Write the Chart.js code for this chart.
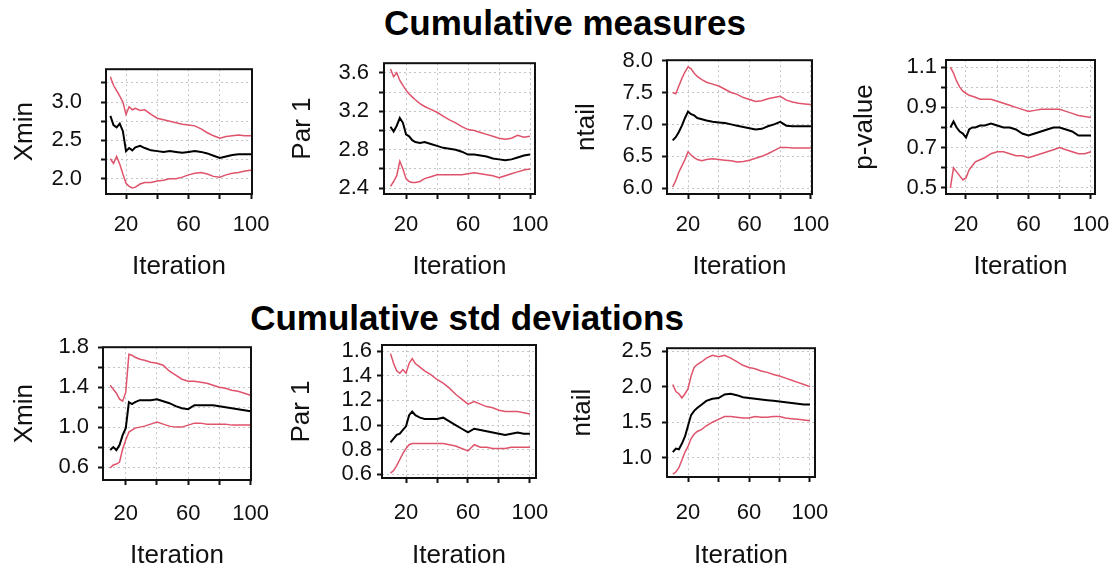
<!DOCTYPE html>
<html>
<head>
<meta charset="utf-8">
<script src="https://cdn.jsdelivr.net/npm/chart.js@4.4.1/dist/chart.umd.min.js"></script>
<style>
  body { margin: 0; background: #fff; width: 1116px; height: 574px; position: relative; overflow: hidden; }
  .heading { position: absolute; font: bold 35px "Liberation Sans", Arial, sans-serif; color: #000; white-space: nowrap; transform: translate(-50%, -50%); }
  .panel { position: absolute; }
</style>
</head>
<body>
<div class="heading" style="left:565px; top:23px;">Cumulative measures</div>
<div class="heading" style="left:467px; top:318px;">Cumulative std deviations</div>

<script>
const iterations = [10, 12, 14, 16, 18, 20, 22, 24, 26, 29, 32, 36, 40, 44, 48, 52, 56, 60, 64, 68, 72, 76, 80, 84, 88, 92, 96, 100];
const xTickLabels = [20, 60, 100];

// cumulative measures
const xminUpper = [3.33, 3.22, 3.15, 3.08, 3.0, 2.84, 2.94, 2.9, 2.92, 2.89, 2.9, 2.84, 2.79, 2.77, 2.75, 2.73, 2.71, 2.7, 2.69, 2.65, 2.6, 2.56, 2.53, 2.55, 2.56, 2.57, 2.56, 2.56];
const xminMean = [2.82, 2.7, 2.67, 2.72, 2.62, 2.36, 2.4, 2.37, 2.41, 2.43, 2.4, 2.37, 2.36, 2.35, 2.36, 2.35, 2.34, 2.35, 2.36, 2.35, 2.33, 2.3, 2.27, 2.29, 2.31, 2.32, 2.32, 2.32];
const xminLower = [2.26, 2.2, 2.29, 2.19, 2.06, 1.94, 1.9, 1.88, 1.89, 1.93, 1.95, 1.95, 1.97, 1.98, 2.0, 2.0, 2.02, 2.05, 2.07, 2.08, 2.06, 2.03, 2.02, 2.05, 2.07, 2.08, 2.1, 2.11];

const par1Upper = [3.64, 3.56, 3.6, 3.52, 3.47, 3.42, 3.38, 3.35, 3.32, 3.28, 3.25, 3.22, 3.19, 3.15, 3.11, 3.08, 3.04, 3.01, 3.0, 2.98, 2.96, 2.94, 2.92, 2.91, 2.92, 2.95, 2.93, 2.94];
const par1Mean = [3.04, 2.99, 3.05, 3.13, 3.08, 2.96, 2.94, 2.9, 2.88, 2.87, 2.88, 2.86, 2.84, 2.82, 2.81, 2.8, 2.78, 2.75, 2.75, 2.74, 2.73, 2.71, 2.7, 2.69, 2.7, 2.72, 2.74, 2.75];
const par1Lower = [2.42, 2.47, 2.53, 2.68, 2.6, 2.5, 2.47, 2.46, 2.46, 2.47, 2.5, 2.52, 2.54, 2.54, 2.54, 2.54, 2.54, 2.55, 2.56, 2.55, 2.54, 2.53, 2.51, 2.53, 2.55, 2.57, 2.59, 2.6];

const ntailUpper = [7.5, 7.48, 7.6, 7.72, 7.82, 7.9, 7.87, 7.8, 7.75, 7.7, 7.66, 7.63, 7.6, 7.55, 7.5, 7.47, 7.42, 7.39, 7.36, 7.37, 7.4, 7.42, 7.44, 7.38, 7.35, 7.33, 7.32, 7.31];
const ntailMean = [6.75, 6.8, 6.88, 6.98, 7.1, 7.2, 7.16, 7.14, 7.1, 7.08, 7.06, 7.04, 7.03, 7.02, 7.0, 6.98, 6.96, 6.94, 6.92, 6.93, 6.97, 7.0, 7.04, 6.98, 6.97, 6.97, 6.97, 6.97];
const ntailLower = [6.02, 6.12, 6.25, 6.35, 6.45, 6.57, 6.52, 6.48, 6.45, 6.43, 6.45, 6.46, 6.45, 6.44, 6.43, 6.41, 6.42, 6.44, 6.47, 6.5, 6.54, 6.59, 6.64, 6.64, 6.63, 6.63, 6.63, 6.63];

const pvalueUpper = [1.1, 1.07, 1.03, 1.0, 0.98, 0.97, 0.96, 0.955, 0.95, 0.94, 0.94, 0.94, 0.93, 0.92, 0.91, 0.9, 0.89, 0.88, 0.885, 0.89, 0.89, 0.89, 0.89, 0.88, 0.87, 0.86, 0.855, 0.85];
const pvalueMean = [0.8, 0.83, 0.8, 0.78, 0.77, 0.75, 0.79, 0.8, 0.8, 0.81, 0.81, 0.82, 0.81, 0.8, 0.8, 0.79, 0.77, 0.76, 0.77, 0.78, 0.79, 0.8, 0.8, 0.79, 0.78, 0.76, 0.76, 0.76];
const pvalueLower = [0.5, 0.6, 0.58, 0.56, 0.54, 0.55, 0.59, 0.61, 0.63, 0.64, 0.65, 0.67, 0.68, 0.68, 0.67, 0.66, 0.66, 0.65, 0.66, 0.67, 0.68, 0.69, 0.7, 0.69, 0.68, 0.67, 0.67, 0.68];

// cumulative std deviations
const xminSdUpper = [1.42, 1.38, 1.34, 1.28, 1.26, 1.35, 1.73, 1.72, 1.7, 1.68, 1.67, 1.65, 1.64, 1.62, 1.56, 1.52, 1.48, 1.46, 1.46, 1.45, 1.44, 1.42, 1.4, 1.39, 1.37, 1.36, 1.34, 1.32];
const xminSdMean = [0.77, 0.8, 0.77, 0.82, 0.92, 0.99, 1.25, 1.23, 1.25, 1.27, 1.27, 1.27, 1.28, 1.26, 1.24, 1.21, 1.19, 1.18, 1.22, 1.22, 1.22, 1.22, 1.21, 1.2, 1.19, 1.18, 1.17, 1.16];
const xminSdLower = [0.59, 0.62, 0.63, 0.65, 0.78, 0.87, 0.95, 0.97, 0.99, 1.0, 1.01, 1.03, 1.05, 1.03, 1.01, 1.0, 1.0, 1.02, 1.04, 1.04, 1.03, 1.03, 1.03, 1.03, 1.02, 1.02, 1.02, 1.02];

const par1SdUpper = [1.58, 1.5, 1.44, 1.42, 1.45, 1.42, 1.5, 1.54, 1.5, 1.47, 1.44, 1.41, 1.37, 1.34, 1.3, 1.25, 1.21, 1.17, 1.19, 1.17, 1.15, 1.14, 1.12, 1.11, 1.11, 1.11, 1.1, 1.09];
const par1SdMean = [0.86, 0.89, 0.92, 0.93, 0.96, 0.99, 1.08, 1.11, 1.08, 1.06, 1.05, 1.05, 1.05, 1.06, 1.03, 1.0, 0.97, 0.94, 0.97, 0.96, 0.95, 0.94, 0.93, 0.92, 0.93, 0.94, 0.93, 0.93];
const par1SdLower = [0.61, 0.63, 0.67, 0.72, 0.77, 0.81, 0.84, 0.85, 0.85, 0.85, 0.85, 0.85, 0.85, 0.85, 0.84, 0.83, 0.81, 0.79, 0.84, 0.82, 0.82, 0.81, 0.81, 0.81, 0.82, 0.82, 0.82, 0.82];

const ntailSdUpper = [2.03, 1.93, 1.9, 1.84, 1.9, 1.97, 2.15, 2.27, 2.31, 2.35, 2.4, 2.44, 2.42, 2.44, 2.4, 2.35, 2.3, 2.27, 2.25, 2.22, 2.2, 2.17, 2.15, 2.12, 2.09, 2.06, 2.03, 2.0];
const ntailSdMean = [1.08, 1.13, 1.12, 1.2, 1.3, 1.45, 1.6, 1.66, 1.7, 1.75, 1.8, 1.83, 1.84, 1.89, 1.9, 1.88, 1.85, 1.84, 1.83, 1.82, 1.81, 1.8, 1.79, 1.78, 1.77, 1.76, 1.75, 1.75];
const ntailSdLower = [0.77, 0.8, 0.86, 0.97, 1.08, 1.16, 1.27, 1.33, 1.37, 1.4, 1.45, 1.5, 1.54, 1.58, 1.58, 1.57, 1.56, 1.56, 1.58, 1.57, 1.57, 1.58, 1.58, 1.56, 1.55, 1.54, 1.53, 1.52];

// y tick labels that are printed (the other ticks stay as bare marks)
const xminYLabels = [2.0, 2.5, 3.0];
const par1YLabels = [2.4, 2.8, 3.2, 3.6];
const ntailYLabels = [6.0, 6.5, 7.0, 7.5, 8.0];
const pvalueYLabels = [0.5, 0.7, 0.9, 1.1];
const xminSdYLabels = [0.6, 1.0, 1.4, 1.8];
const par1SdYLabels = [0.6, 0.8, 1.0, 1.2, 1.4, 1.6];
const ntailSdYLabels = [1.0, 1.5, 2.0, 2.5];

const RED = "#DF536B";
const FONT = "'Liberation Sans', Arial, sans-serif";
const AXIS_TITLE_SIZE = 26;

const panels = [
  { label: "Xmin", upper: xminUpper, mean: xminMean, lower: xminLower, yLabels: xminYLabels,
    yMin: 1.8, yMax: 3.43, yStep: 0.25, xMin: 7.2, xMax: 100.6,
    box: { left: 106, top: 57, right: 252, bottom: 194 }, titleX: 25, titleY: 266, gap: 24, xGap: 13 },
  { label: "Par 1", upper: par1Upper, mean: par1Mean, lower: par1Lower, yLabels: par1YLabels,
    yMin: 2.34, yMax: 3.7, yStep: 0.2, xMin: 5.8, xMax: 103.2,
    box: { left: 384, top: 60, right: 535, bottom: 194 }, titleX: 303, titleY: 266, gap: 15, xGap: 13 },
  { label: "ntail", upper: ntailUpper, mean: ntailMean, lower: ntailLower, yLabels: ntailYLabels,
    yMin: 5.91, yMax: 8.005, yStep: 0.5, xMin: 6.3, xMax: 100.7,
    box: { left: 667, top: 58, right: 812, bottom: 194 }, titleX: 587, titleY: 266, gap: 14, xGap: 13 },
  { label: "p-value", upper: pvalueUpper, mean: pvalueMean, lower: pvalueLower, yLabels: pvalueYLabels,
    yMin: 0.47, yMax: 1.135, yStep: 0.1, xMin: 7.2, xMax: 102.6,
    box: { left: 946, top: 60, right: 1095, bottom: 194 }, titleX: 865, titleY: 266, gap: 9, xGap: 13 },
  { label: "Xmin", upper: xminSdUpper, mean: xminSdMean, lower: xminSdLower, yLabels: xminSdYLabels,
    yMin: 0.47, yMax: 1.801, yStep: 0.2, xMin: 5.4, xMax: 100.3,
    box: { left: 103, top: 345, right: 251, bottom: 480 }, titleX: 25, titleY: 555, gap: 14, xGap: 16 },
  { label: "Par 1", upper: par1SdUpper, mean: par1SdMean, lower: par1SdLower, yLabels: par1SdYLabels,
    yMin: 0.57, yMax: 1.65, yStep: 0.2, xMin: 4.5, xMax: 103.9,
    box: { left: 382, top: 345, right: 536, bottom: 478 }, titleX: 302, titleY: 555, gap: 10, xGap: 17 },
  { label: "ntail", upper: ntailSdUpper, mean: ntailSdMean, lower: ntailSdLower, yLabels: ntailSdYLabels,
    yMin: 0.73, yMax: 2.54, yStep: 0.5, xMin: 6.2, xMax: 103.3,
    box: { left: 667, top: 345, right: 815, bottom: 477 }, titleX: 583, titleY: 555, gap: 15, xGap: 18 },
];

const boxBorderPlugin = {
  id: "boxBorder",
  afterDraw(chart) {
    const { ctx, chartArea: a } = chart;
    ctx.save();
    ctx.strokeStyle = "#111";
    ctx.lineWidth = 2;
    ctx.strokeRect(a.left, a.top, a.right - a.left, a.bottom - a.top);
    ctx.restore();
  },
};

function hasLabel(list, value) {
  return list.some((v) => Math.abs(v - value) < 1e-6);
}

function createPanel(panel) {
  const titleOffset = (AXIS_TITLE_SIZE * 1.2) / 2;
  const padTop = 20;
  const padRight = 22;
  const left = Math.round(panel.titleX - titleOffset);
  const top = panel.box.top - padTop;
  const bottom = Math.round(panel.titleY + titleOffset);
  const yWidth = panel.box.left - left;
  const xHeight = bottom - panel.box.bottom;

  const holder = document.createElement("div");
  holder.className = "panel";
  holder.style.left = left + "px";
  holder.style.top = top + "px";
  holder.style.width = panel.box.right + padRight - left + "px";
  holder.style.height = bottom - top + "px";
  const canvas = document.createElement("canvas");
  holder.appendChild(canvas);
  document.body.appendChild(holder);

  const line = (data, color, width) => ({
    data: iterations.map((x, i) => ({ x, y: data[i] })),
    borderColor: color,
    borderWidth: width,
    pointRadius: 0,
    tension: 0,
    fill: false,
  });

  const tickFont = { family: FONT, size: 22 };
  const titleFont = { family: FONT, size: AXIS_TITLE_SIZE };

  new Chart(canvas, {
    type: "line",
    data: {
      datasets: [line(panel.upper, RED, 1.5), line(panel.lower, RED, 1.5), line(panel.mean, "#000", 2)],
    },
    options: {
      responsive: true,
      maintainAspectRatio: false,
      animation: false,
      layout: { padding: { top: padTop, right: padRight, left: 0, bottom: 0 } },
      plugins: { legend: { display: false }, tooltip: { enabled: false } },
      scales: {
        x: {
          type: "linear",
          min: panel.xMin,
          max: panel.xMax,
          afterFit(scale) {
            // fixed band under the box; label overhang is covered by layout padding
            scale.height = xHeight;
            scale.paddingLeft = 0;
            scale.paddingRight = 0;
          },
          ticks: {
            stepSize: 20,
            autoSkip: false,
            maxRotation: 0,
            includeBounds: false,
            padding: panel.xGap,
            color: "#111",
            font: tickFont,
            callback: (value) => (hasLabel(xTickLabels, value) ? String(value) : ""),
          },
          grid: { color: "#c4c4c4", tickColor: "#111", tickLength: 5, tickWidth: 2 },
          border: { display: false, dash: [2, 3] },
          title: { display: true, text: "Iteration", color: "#111", font: titleFont, padding: 0 },
        },
        y: {
          min: panel.yMin,
          max: panel.yMax,
          afterFit(scale) { scale.width = yWidth; },
          ticks: {
            stepSize: panel.yStep,
            autoSkip: false,
            includeBounds: false,
            padding: panel.gap - 5,
            color: "#111",
            font: tickFont,
            callback: (value) => (hasLabel(panel.yLabels, value) ? value.toFixed(1) : ""),
          },
          grid: { color: "#c4c4c4", tickColor: "#111", tickLength: 5, tickWidth: 2 },
          border: { display: false, dash: [2, 3] },
          title: { display: true, text: panel.label, color: "#111", font: titleFont, padding: 0 },
        },
      },
    },
    plugins: [boxBorderPlugin],
  });
}

panels.forEach(createPanel);
</script>
</body>
</html>
